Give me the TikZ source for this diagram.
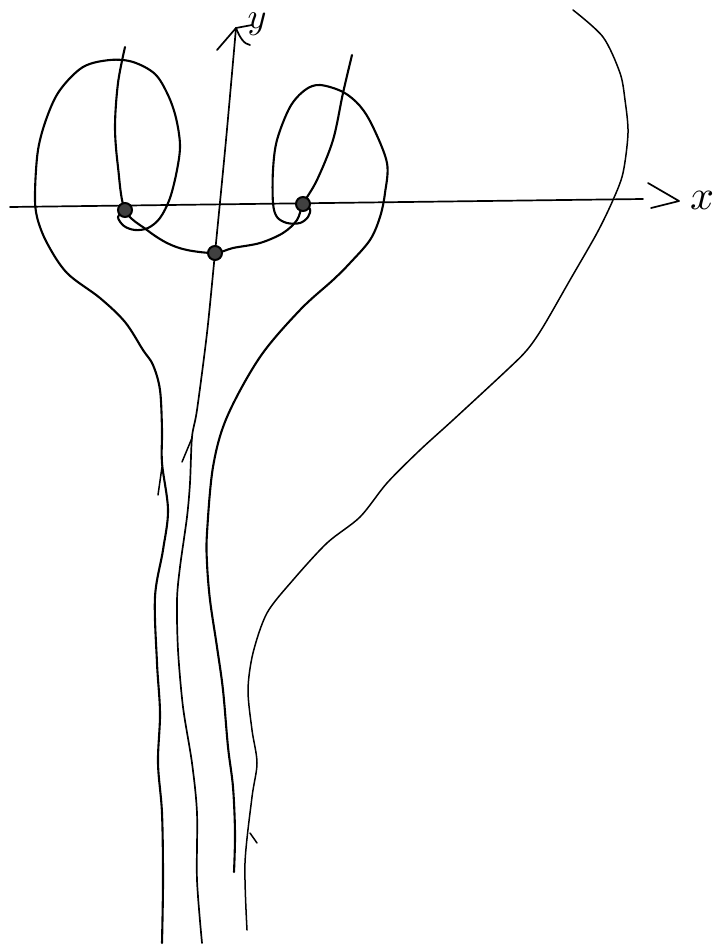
\documentclass[tikz,border=0pt]{standalone}
\begin{document}
\begin{tikzpicture}[x=1pt,y=-1pt,
  curve/.style={line width=2.1pt, line cap=round, line join=round},
  thincurve/.style={line width=1.5pt, line cap=round, line join=round},
  axisline/.style={line width=1.7pt, line cap=round, line join=round},
  eqpt/.style={circle, draw, line width=2pt, fill=black!75, minimum size=14pt, inner sep=0pt},
  lbl/.style={inner sep=0pt}]
\useasboundingbox[fill=white] (0,0) rectangle (721,945);

\coordinate (L) at (125,210);
\coordinate (M) at (215,253);
\coordinate (R) at (303,204);

% x axis
\coordinate (xs) at (10,207);
\coordinate (xe) at (643,199);
\draw[axisline] (xs) -- (xe);
\coordinate (xa1) at (648,183);
\coordinate (xa2) at (679,201);
\coordinate (xa3) at (651,208);
\draw[axisline] (xa1) -- (xa2) -- (xa3);
\node[lbl] (xlab) at (702,200) {\scalebox{4.2}{$x$}};

% y axis (continues as a trajectory to the bottom)
\coordinate (ytip) at (236,28);
\draw[axisline] plot[smooth, tension=0.5] coordinates {(ytip) (226,140) (M) (207,333) (197,410) (192,437) (190,483) (187,517) (180,567) (177,600) (178,650) (183,707) (192,763) (197,813) (197,880) (202,943)};
\coordinate (yb1) at (217,50);
\coordinate (yb2) at (252,25);
\draw[axisline] (yb1) -- (ytip) -- (yb2);
\draw[axisline] (ytip) .. controls (240,38) and (244,44) .. (250,45);
\node[lbl] (ylab) at (257,24) {\scalebox{3.6}{$y$}};
\coordinate (s1a) at (182,462);
\coordinate (s1b) at (192,438);
\draw[thincurve] (s1a) -- (s1b);

% trajectory through the three equilibria
\draw[curve] plot[smooth, tension=0.55] coordinates {(125,47) (118,83) (115,127) (118,167) (L) (147,230) (167,243) (187,250) (M) (233,248) (260,243) (283,233) (297,220) (R) (317,180) (333,140) (343,93) (352,55)};

% left lobe and its descending branch
\draw[curve] plot[smooth, tension=0.55] coordinates {(L) (118,217) (124,226) (135,230) (148,228) (160,218) (170,198) (177,170) (180,145) (176,118) (168,95) (155,74) (133,62) (110,60) (83,67) (60,90) (47,117) (38,150) (35,193) (37,217) (47,243) (67,273) (100,298) (125,322) (143,350) (153,365) (160,390) (162,430) (162,463) (168,510) (163,550) (155,597) (157,663) (160,713) (158,763) (162,813) (163,880) (162,943)};
\coordinate (s2a) at (158,495);
\coordinate (s2b) at (162,467);
\draw[thincurve] (s2a) -- (s2b);

% right lobe and its descending branch
\draw[curve] plot[smooth, tension=0.55] coordinates {(R) (310,209) (308,217) (300,223) (287,223) (277,217) (273,203) (273,170) (277,140) (290,107) (305,90) (320,85) (343,92) (360,106) (373,127) (387,163) (385,193) (380,217) (370,240) (350,263) (333,280) (300,310) (260,357) (227,417) (213,467) (207,533) (207,563) (210,600) (217,647) (223,690) (228,747) (233,787) (235,833) (234,872)};

% far right trajectory
\draw[thincurve] plot[smooth, tension=0.5] coordinates {(573,10) (603,37) (620,73) (625,100) (628,133) (623,173) (613,200) (597,233) (570,280) (543,327) (527,350) (507,370) (453,420) (420,450) (387,483) (360,517) (327,543) (293,580) (267,613) (253,653) (248,690) (252,730) (257,763) (252,797) (245,863) (247,930)};
\coordinate (s3a) at (250,833);
\coordinate (s3b) at (257,843);
\draw[thincurve] (s3a) -- (s3b);

% equilibria
\node[eqpt] (eL) at (L) {};
\node[eqpt] (eM) at (M) {};
\node[eqpt] (eR) at (R) {};
\end{tikzpicture}
\end{document}
